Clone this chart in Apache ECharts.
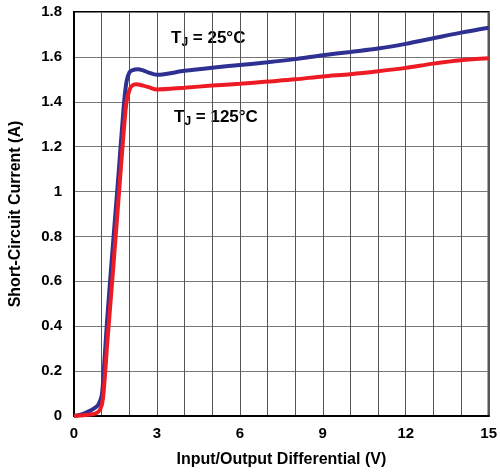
<!DOCTYPE html>
<html>
<head>
<meta charset="utf-8">
<script src="https://cdn.jsdelivr.net/npm/echarts@6/dist/echarts.min.js"></script>
<style>html,body{margin:0;padding:0;background:#fff}#c{width:500px;height:474px}</style>
</head>
<body>
<div id="c"></div>
<script>
var xTicks = [0, 3, 6, 9, 12, 15];
var yTicks = [0, 0.2, 0.4, 0.6, 0.8, 1, 1.2, 1.4, 1.6, 1.8];
var seriesNames = ['TJ = 25°C', 'TJ = 125°C'];
var tj25 = [[0,0],[0.2,0.005],[0.4,0.013],[0.6,0.024],[0.8,0.04],[0.9,0.055],[1.0,0.09],[1.05,0.15],[1.2,0.43],[1.4,0.75],[1.6,1.06],[1.8,1.38],[1.9,1.49],[2.0,1.53],[2.1,1.54],[2.3,1.545],[2.5,1.54],[2.7,1.53],[3.0,1.52],[4,1.538],[5,1.552],[6,1.564],[7,1.576],[8,1.59],[9,1.607],[10,1.622],[11,1.637],[12,1.658],[13,1.683],[14,1.708],[15,1.73]];
var tj125 = [[0,0],[0.2,0.002],[0.4,0.004],[0.6,0.007],[0.8,0.012],[0.95,0.03],[1.05,0.08],[1.2,0.32],[1.4,0.63],[1.6,0.95],[1.8,1.27],[1.9,1.4],[2.0,1.45],[2.1,1.472],[2.25,1.478],[2.5,1.472],[2.7,1.465],[3.0,1.455],[4,1.463],[5,1.472],[6,1.48],[7,1.49],[8,1.5],[9,1.513],[10,1.523],[11,1.536],[12,1.551],[13,1.57],[14,1.585],[15,1.594]];

var chart = echarts.init(document.getElementById('c'), null, {renderer: 'canvas'});
var font = 'Liberation Sans, Arial, Helvetica, sans-serif';
var rich = {
  t: {fontFamily: font, fontWeight: 'bold', fontSize: 17, color: '#000', lineHeight: 20},
  s: {fontFamily: font, fontWeight: 'bold', fontSize: 12, color: '#000', lineHeight: 20, padding: [9, 0, 0, 0]}
};
chart.setOption({
  animation: false,
  grid: {left: 74, right: 11, top: 12, bottom: 58, show: true, borderColor: '#000', borderWidth: 2, backgroundColor: 'transparent'},
  xAxis: {
    type: 'value', min: 0, max: 15, interval: 1,
    name: 'Input/Output Differential (V)', nameLocation: 'middle', nameGap: 36,
    nameTextStyle: {fontFamily: font, fontWeight: 'bold', fontSize: 16, color: '#000'},
    axisLine: {show: true, lineStyle: {color: '#000', width: 2}},
    axisTick: {show: false},
    axisLabel: {margin: 10, fontFamily: font, fontWeight: 'bold', fontSize: 15, color: '#000',
      formatter: function (v) { return xTicks.indexOf(v) >= 0 ? String(v) : ''; }},
    splitLine: {show: true, lineStyle: {color: '#555', width: 1}}
  },
  yAxis: {
    type: 'value', min: 0, max: 1.8, interval: 0.2,
    name: 'Short-Circuit Current (A)', nameLocation: 'middle', nameGap: 50,
    nameTextStyle: {fontFamily: font, fontWeight: 'bold', fontSize: 16, color: '#000'},
    axisLine: {show: true, lineStyle: {color: '#000', width: 2}},
    axisTick: {show: false},
    axisLabel: {margin: 12, fontFamily: font, fontWeight: 'bold', fontSize: 15, color: '#000',
      formatter: function (v) {
        var r = Math.round(v * 10) / 10;
        for (var i = 0; i < yTicks.length; i++) { if (Math.abs(yTicks[i] - r) < 1e-6) return String(yTicks[i]); }
        return '';
      }},
    splitLine: {show: true, lineStyle: {color: '#777', width: 1}}
  },
  series: [
    {name: seriesNames[0], type: 'line', data: tj25, showSymbol: false, smooth: 0.3, lineStyle: {color: '#2e3192', width: 4}, z: 3},
    {name: seriesNames[1], type: 'line', data: tj125, showSymbol: false, smooth: 0.3, lineStyle: {color: '#ed1c24', width: 4}, z: 4}
  ],
  graphic: [
    {type: 'text', left: 171, top: 28, style: {text: '{t|T}{s|J}{t| = 25°C}', rich: rich}},
    {type: 'text', left: 174, top: 107, style: {text: '{t|T}{s|J}{t| = 125°C}', rich: rich}}
  ]
});
</script>
</body>
</html>
